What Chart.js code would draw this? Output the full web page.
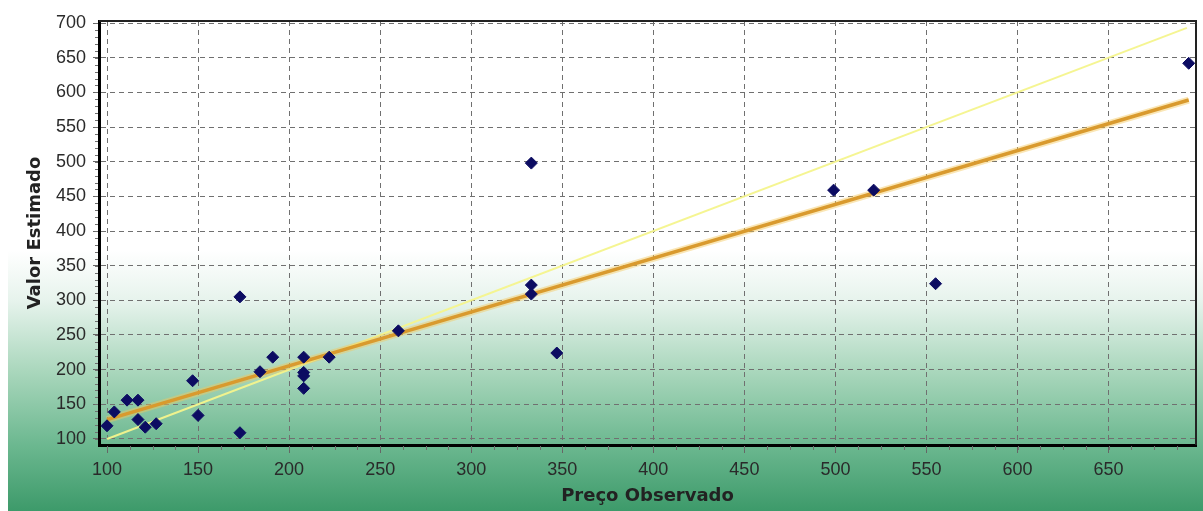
<!DOCTYPE html>
<html>
<head>
<meta charset="utf-8">
<script src="https://cdn.jsdelivr.net/npm/chart.js@4/dist/chart.umd.min.js"></script>
<style>
  html, body { margin: 0; padding: 0; background: #fff; }
  #wrap {
    position: relative; width: 1203px; height: 511px;
    background:
      linear-gradient(to right, #fff 0, #fff 8px, rgba(255,255,255,0) 8px),
      linear-gradient(to bottom, #fff 0%, #fff 49%, #e6f3ec 59%, #a8d6bb 73%, #6cb890 87%, #3d9a6a 100%);
  }
</style>
</head>
<body>
<div id="wrap"><canvas id="scatterChart"></canvas></div>
<script>
// observed price vs estimated value
const observed  = [100, 104, 111, 117, 117, 121, 127, 147, 150, 173, 173, 184, 191, 208, 208, 208, 208, 222, 260, 333, 333, 333, 347, 499, 521, 555, 694];
const estimated = [119, 139, 156, 156, 128, 117, 122, 184, 134, 109, 305, 197, 218, 218, 196, 191, 173, 218, 256, 498, 322, 309, 224, 459, 459, 324, 642];

// fitted trend and the identity line
const fitX = [100, 694];
const fitY = [128, 589];
const idX = [100, 693];
const idY = [100, 693];

const xTicks = [100, 150, 200, 250, 300, 350, 400, 450, 500, 550, 600, 650];
const yTicks = [100, 150, 200, 250, 300, 350, 400, 450, 500, 550, 600, 650, 700];

const toPoints = (xs, ys) => xs.map((v, i) => ({ x: v, y: ys[i] }));

const frame = {
  id: 'frame',
  afterDraw(chart) {
    const { ctx, chartArea: a, scales: { x, y } } = chart;
    ctx.save();
    // minor ticks
    ctx.strokeStyle = '#6f6f6f';
    ctx.lineWidth = 1;
    ctx.beginPath();
    for (let v = 100; v < x.max; v += 12.5) {
      const px = Math.round(x.getPixelForValue(v)) + 0.5;
      ctx.moveTo(px, a.bottom + 1);
      ctx.lineTo(px, a.bottom + 5);
    }
    for (let v = 100; v < y.max; v += 10) {
      const py = Math.round(y.getPixelForValue(v)) + 0.5;
      ctx.moveTo(a.left - 4, py);
      ctx.lineTo(a.left - 1, py);
    }
    ctx.stroke();
    // top and right border
    ctx.strokeStyle = '#222';
    ctx.lineWidth = 2;
    ctx.beginPath();
    ctx.moveTo(a.left, a.top);
    ctx.lineTo(a.right, a.top);
    ctx.lineTo(a.right, a.bottom);
    ctx.stroke();
    ctx.restore();
  }
};

const tickFont = { family: 'Liberation Sans', size: 18 };
const titleFont = { family: 'DejaVu Sans', size: 18, weight: 'bold' };

new Chart(document.getElementById('scatterChart'), {
  type: 'scatter',
  data: {
    datasets: [
      {
        label: 'Estimado',
        data: toPoints(observed, estimated),
        pointStyle: 'rectRot',
        pointRadius: 6,
        backgroundColor: '#0c0c62',
        borderColor: '#0c0c62',
        borderWidth: 1,
        order: 0
      },
      {
        label: 'Tendência',
        data: toPoints(fitX, fitY),
        showLine: true,
        borderColor: '#d99a2e',
        borderWidth: 3.5,
        pointRadius: 0,
        order: 1
      },
      {
        label: 'Tendência halo',
        data: toPoints(fitX, fitY),
        showLine: true,
        borderColor: 'rgba(245, 200, 90, 0.45)',
        borderWidth: 7,
        pointRadius: 0,
        order: 2
      },
      {
        label: 'Identidade',
        data: toPoints(idX, idY),
        showLine: true,
        borderColor: 'rgba(244, 244, 140, 0.95)',
        borderWidth: 2,
        pointRadius: 0,
        order: 3
      }
    ]
  },
  options: {
    responsive: true,
    maintainAspectRatio: false,
    animation: false,
    layout: { padding: { left: 8, top: 21, right: 7, bottom: 0 } },
    plugins: {
      legend: { display: false },
      tooltip: { enabled: false }
    },
    scales: {
      x: {
        type: 'linear',
        min: 95.6,
        max: 698,
        afterBuildTicks: s => { s.ticks = xTicks.map(v => ({ value: v })); },
        afterFit: s => { s.height = 66; },
        ticks: { font: tickFont, color: '#2a2a2a', padding: 6, maxRotation: 0, autoSkip: false },
        grid: { color: '#707070', tickLength: 8, tickColor: '#666' },
        border: { color: '#000', width: 3, dash: [5, 4] },
        title: { display: true, text: 'Preço Observado', font: titleFont, color: '#222', padding: { top: 0, bottom: 4 } }
      },
      y: {
        type: 'linear',
        min: 91.3,
        max: 703,
        afterBuildTicks: s => { s.ticks = yTicks.map(v => ({ value: v })); },
        afterFit: s => { s.width = 91; },
        ticks: { font: tickFont, color: '#2a2a2a', padding: 7 },
        grid: { color: '#707070', tickLength: 6, tickColor: '#666' },
        border: { color: '#000', width: 3, dash: [5, 4] },
        title: { display: true, text: 'Valor Estimado', font: titleFont, color: '#222', padding: { top: 17, bottom: 0 } }
      }
    }
  },
  plugins: [frame]
});
</script>
</body>
</html>
